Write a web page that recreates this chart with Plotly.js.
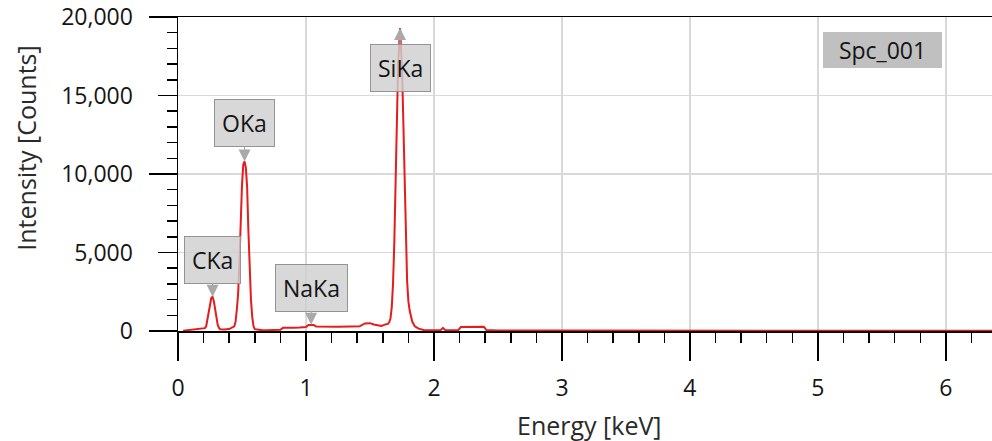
<!DOCTYPE html>
<html>
<head>
<meta charset="utf-8">
<script src="https://cdn.plot.ly/plotly-3.0.1.min.js"></script>
<style>html,body{margin:0;padding:0;background:#fff;}#chart{width:992px;height:441px;}</style>
</head>
<body>
<div id="chart"></div>
<script>
// Spectrum (Energy in keV, Intensity in counts)
const energy = [0.04,0.08,0.12,0.16,0.20,0.21,0.22,0.23,0.24,0.25,0.26,0.27,0.28,0.29,0.30,0.31,0.32,0.33,0.36,0.40,
  0.44,0.45,0.46,0.47,0.48,0.49,0.50,0.51,0.52,0.53,0.54,0.55,0.56,0.57,0.58,0.59,0.60,0.65,0.70,0.75,
  0.80,0.82,0.86,0.90,0.95,1.00,1.02,1.04,1.06,1.08,1.15,1.25,1.35,1.42,1.46,1.50,1.53,1.56,1.59,1.62,
  1.64,1.65,1.66,1.67,1.68,1.69,1.70,1.71,1.72,1.735,1.75,1.76,1.77,1.78,1.79,1.80,1.81,1.83,1.85,1.88,
  1.92,1.96,2.00,2.05,2.07,2.09,2.15,2.19,2.21,2.30,2.39,2.41,2.50,3.00,4.00,5.00,6.00,6.40];
const counts = [20,60,90,100,150,180,300,700,1200,1700,2100,2180,1900,1400,800,400,200,110,100,120,
  300,600,1400,2400,4400,7000,9300,10600,10800,10400,9200,6400,3900,2000,900,300,120,60,50,50,
  80,200,180,200,220,260,380,400,380,280,270,270,290,300,480,500,420,350,320,420,
  450,550,800,1500,3000,5600,9800,14200,17000,19300,16800,13500,9800,5800,3200,1900,1300,600,300,150,
  60,40,30,40,200,40,40,60,250,270,270,60,30,25,20,20,20,20];

// Peak labels
const peakNames = ["CKa","OKa","NaKa","SiKa"];
const peakEnergy = [0.27,0.52,1.04,1.735];
const peakCounts = [2180,10800,400,19300];
const peakOffsetY = [-37,-38,-37,40];

const spectrumName = "Spc_001";
const xTitle = "Energy [keV]";
const yTitle = "Intensity [Counts]";

const FONT = "Open Sans, Noto Sans, DejaVu Sans, sans-serif";

const traces = [
  {x: energy, y: counts, type: "scatter", mode: "lines",
   line: {color: "rgb(228,28,28)", width: 2}, hoverinfo: "skip", showlegend: false},
  {x: [0], y: [0], yaxis: "y2", type: "scatter", mode: "none", hoverinfo: "skip", showlegend: false}
];

const annotations = peakNames.map((n, i) => ({
  x: peakEnergy[i], y: peakCounts[i], xref: "x", yref: "y",
  text: n, showarrow: true, ax: 0, ay: peakOffsetY[i],
  arrowhead: 2, arrowsize: 2, arrowwidth: 1.2, arrowcolor: "#a9a9a9", standoff: 0,
  bgcolor: "rgba(208,208,208,0.82)", bordercolor: "#949494", borderwidth: 1, borderpad: 7,
  font: {family: FONT, size: 23, color: "#151515"}
}));

annotations.push({
  xref: "paper", yref: "paper", x: 0.865, y: 0.895, xanchor: "center", yanchor: "middle",
  text: spectrumName, showarrow: false, bgcolor: "#c0c0c0", borderwidth: 0,
  width: 117, height: 34, borderpad: 1,
  font: {family: FONT, size: 23, color: "#151515"}
});
annotations.push({
  xref: "paper", yref: "paper", x: -0.187, y: 0.583, xanchor: "center", yanchor: "middle",
  text: yTitle, textangle: -90, showarrow: false,
  font: {family: FONT, size: 25, color: "#2a2a2a"}
});
annotations.push({
  xref: "paper", yref: "paper", x: 0.506, y: -0.299, xanchor: "center", yanchor: "middle",
  text: xTitle, showarrow: false,
  font: {family: FONT, size: 25, color: "#2a2a2a"}
});

const layout = {
  width: 992, height: 441,
  margin: {l: 178, r: 0, t: 17, b: 110, pad: 0},
  paper_bgcolor: "#fff", plot_bgcolor: "#fff",
  font: {family: FONT, size: 23, color: "#151515"},
  xaxis: {
    range: [0, 6.36], dtick: 1, tick0: 0,
    ticks: "outside", ticklen: 28, tickwidth: 1.5, tickcolor: "#000",
    minor: {dtick: 0.2, ticks: "outside", ticklen: 10, tickwidth: 1.5, tickcolor: "#000", showgrid: false},
    showline: true, linecolor: "#000", linewidth: 1.5, mirror: true,
    showgrid: true, gridcolor: "#d9d9d9", gridwidth: 1.5, zeroline: false,
    ticklabelstandoff: 8,
    tickfont: {family: FONT, size: 23, color: "#151515"}
  },
  yaxis: {
    range: [0, 20000], dtick: 5000, tick0: 0, tickformat: ",d",
    ticks: "outside", ticklen: 19, tickwidth: 1.5, tickcolor: "#000",
    minor: {dtick: 1000, ticks: "outside", ticklen: 10, tickwidth: 1.5, tickcolor: "#000", showgrid: false},
    showline: true, linecolor: "#000", linewidth: 1.5,
    showgrid: true, gridcolor: "#d9d9d9", gridwidth: 1.5, zeroline: false,
    ticklabelstandoff: 20,
    tickfont: {family: FONT, size: 23, color: "#151515"}
  },
  yaxis2: {
    overlaying: "y", side: "left", range: [0, 20000], dtick: 10000, tick0: 0,
    ticks: "outside", ticklen: 28, tickwidth: 1.5, tickcolor: "#000",
    showticklabels: false, showgrid: false, showline: false, zeroline: false
  },
  annotations: annotations
};

Plotly.newPlot("chart", traces, layout, {displayModeBar: false, staticPlot: true});
</script>
</body>
</html>
